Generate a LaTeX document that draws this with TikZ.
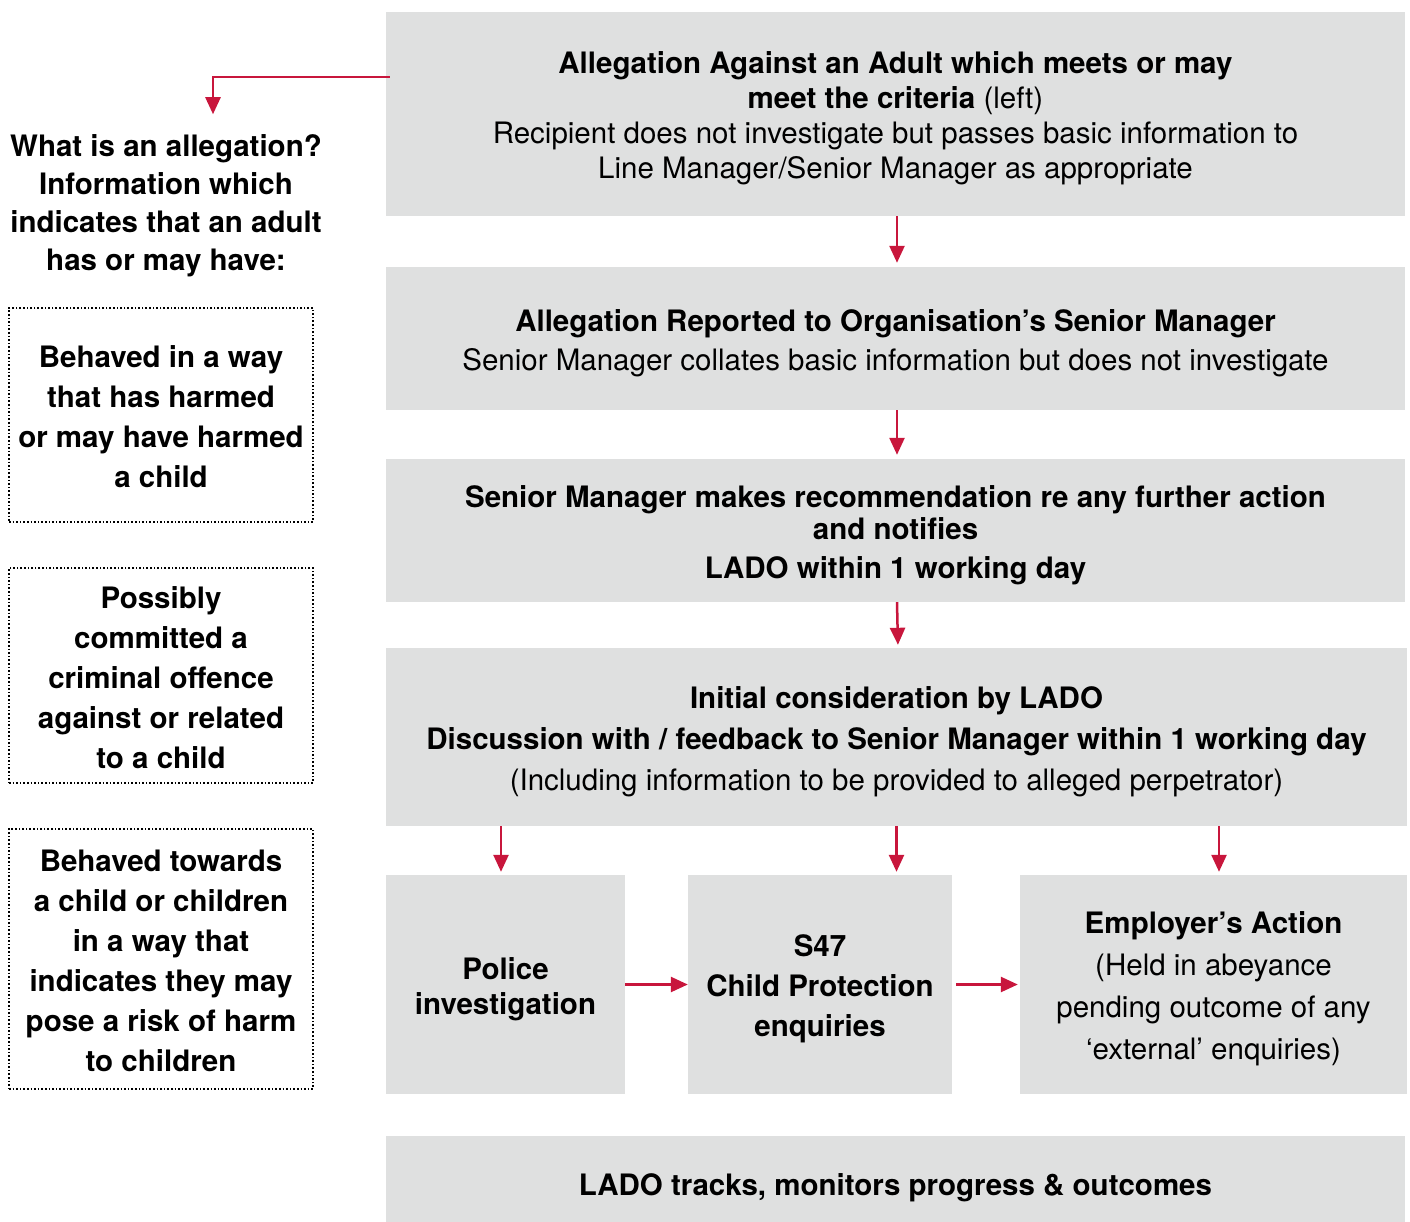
\documentclass[tikz,border=0pt]{standalone}
\usepackage{fontspec}
\setmainfont{TeX Gyre Heros}
\usepackage{tikz}
\usetikzlibrary{arrows.meta}
\definecolor{boxgrey}{RGB}{223,224,224}
\definecolor{linkred}{RGB}{200,22,60}
\tikzset{baseline=(current bounding box.center), >/.tip={Triangle[length=17pt,width=15pt]}}
\tikzset{
  greybox/.style={fill=boxgrey, inner sep=0pt, align=center, font=\fontsize{29.5}{35}\selectfont},
  dotbox/.style={draw, dotted, line width=1.6pt, inner sep=0pt, align=center, minimum width=304, font=\fontsize{29.5}{40}\selectfont\bfseries},
  link/.style={->, draw=linkred, line width=2.5pt}
}
\newcommand{\topgap}[1]{\rule{0pt}{#1}}

\begin{document}
\begin{tikzpicture}[x=1pt, y=-1pt]
\useasboundingbox (0,0) rectangle (1410,1222);
\node[greybox, minimum width=1019, minimum height=204] (alleg) at (895.5,114)
  {\topgap{31pt}\textbf{Allegation Against an Adult which meets or may}\\
   \textbf{meet the criteria} (left)\\
   Recipient does not investigate but passes basic information to\\
   Line Manager/Senior Manager as appropriate};
\node[greybox, minimum width=1019, minimum height=143, font=\fontsize{29.5}{39}\selectfont] (reported) at (895.5,338.5)
  {\topgap{31pt}\textbf{Allegation Reported to Organisation’s Senior Manager}\\
   Senior Manager collates basic information but does not investigate};
\node[greybox, minimum width=1019, minimum height=143, font=\fontsize{29.5}{32}\selectfont\bfseries] (recommend) at (895.5,530.5)
  {\topgap{31pt}Senior Manager makes recommendation re any further action\\
   and notifies\\[7pt]
   LADO within 1 working day};
\node[greybox, minimum width=1021, minimum height=178, font=\fontsize{29.5}{41}\selectfont] (initial) at (896.5,737)
  {\topgap{31pt}\textbf{Initial consideration by LADO}\\
   \textbf{Discussion with / feedback to Senior Manager within 1 working day}\\
   (Including information to be provided to alleged perpetrator)};
\node[greybox, minimum width=239, minimum height=219, font=\fontsize{29.5}{35}\selectfont\bfseries] (police) at (505.5,984.5)
  {\topgap{31pt}Police\\investigation};
\node[greybox, minimum width=264, minimum height=219, font=\fontsize{29.5}{40}\selectfont\bfseries] (sfortyseven) at (820,984.5)
  {\topgap{31pt}S47\\Child Protection\\enquiries};
\node[greybox, minimum width=387, minimum height=219, font=\fontsize{29.5}{42}\selectfont] (employer) at (1213.5,984.5)
  {\topgap{31pt}\textbf{Employer’s Action}\\(Held in abeyance\\pending outcome of any\\‘external’ enquiries)};
\node[greybox, minimum width=1019, minimum height=94, font=\fontsize{29.5}{35}\selectfont\bfseries] (tracks) at (895.5,1183)
  {\topgap{31pt}LADO tracks, monitors progress \& outcomes};

% left column
\node[align=center, font=\fontsize{29.5}{38}\selectfont\bfseries] (whatis) at (166,206)
  {What is an allegation?\\Information which\\indicates that an adult\\has or may have:};
\node[dotbox, minimum height=214] (harmed) at (161,415)
  {\topgap{26pt}Behaved in a way\\that has harmed\\or may have harmed\\a child};
\node[dotbox, minimum height=215] (criminal) at (161,675.5)
  {\topgap{26pt}Possibly\\committed a\\criminal offence\\against or related\\to a child};
\node[dotbox, minimum height=260] (towards) at (161,959)
  {\topgap{26pt}Behaved towards\\a child or children\\in a way that\\indicates they may\\pose a risk of harm\\to children};

\coordinate (bend) at (213,77);
\draw[link] ([xshift=4pt]alleg.west |- bend) -- (bend) -- ([yshift=17pt]whatis.north -| bend);
\draw[link, shorten >=4pt] ([xshift=1.5pt]alleg.south) -- ([xshift=1.5pt]reported.north);
\draw[link, shorten >=4pt] ([xshift=1.5pt]reported.south) -- ([xshift=1.5pt]recommend.north);
\draw[link, shorten >=3pt] ([xshift=1.5pt]recommend.south) -- ([xshift=1.5pt]initial.north);
\draw[link, shorten >=3pt] ([xshift=-4.5pt]police.north |- initial.south) -- ([xshift=-4.5pt]police.north);
\draw[link, shorten >=3pt] (initial.south) -- (initial.south |- sfortyseven.north);
\draw[link, shorten >=3pt] ([xshift=5.5pt]employer.north |- initial.south) -- ([xshift=5.5pt]employer.north);
\draw[link] (police) -- (sfortyseven);
\draw[link, shorten <=4pt, shorten >=2pt] (sfortyseven) -- (employer);
\end{tikzpicture}
\end{document}
